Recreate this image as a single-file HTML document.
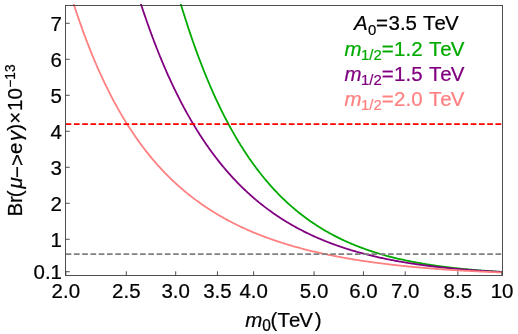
<!DOCTYPE html>
<html><head><meta charset="utf-8"><title>plot</title>
<style>
html,body{margin:0;padding:0;background:#fff;}
svg{display:block;font-family:"Liberation Sans",sans-serif;font-kerning:none;will-change:transform;}
</style></head><body>
<svg width="518" height="334" viewBox="0 0 518 334">
<rect width="518" height="334" fill="#fff"/>
<defs><clipPath id="c"><rect x="65.5" y="3.9" width="437.0" height="271.6"/></clipPath></defs>
<g clip-path="url(#c)" fill="none" stroke-width="1.8" stroke-linejoin="round">
<path d="M179.65,0.24 L180.65,3.59 L181.65,6.89 L182.65,10.15 L183.65,13.37 L184.65,16.56 L185.65,19.70 L186.65,22.81 L187.65,25.88 L188.65,28.91 L189.65,31.90 L190.65,34.86 L191.65,37.78 L192.65,40.67 L193.65,43.52 L194.65,46.34 L195.65,49.13 L196.65,51.88 L197.65,54.59 L198.65,57.28 L199.65,59.93 L200.65,62.55 L201.65,65.14 L202.65,67.70 L203.65,70.22 L204.65,72.72 L205.65,75.18 L206.65,77.62 L207.65,80.03 L208.65,82.40 L209.65,84.75 L210.65,87.08 L211.65,89.37 L212.65,91.63 L213.65,93.87 L214.65,96.08 L215.65,98.27 L216.65,100.43 L217.65,102.56 L218.65,104.67 L219.65,106.75 L220.65,108.81 L221.65,110.84 L222.65,112.85 L223.65,114.84 L224.65,116.80 L225.65,118.73 L226.65,120.65 L227.65,122.54 L228.65,124.41 L229.65,126.25 L230.65,128.08 L231.65,129.88 L232.65,131.66 L233.65,133.42 L234.65,135.16 L235.65,136.88 L236.65,138.58 L237.65,140.26 L238.65,141.91 L239.65,143.55 L240.65,145.17 L241.65,146.77 L242.65,148.35 L243.65,149.91 L244.65,151.45 L245.65,152.98 L246.65,154.48 L247.65,155.97 L248.65,157.44 L249.65,158.89 L250.65,160.33 L251.65,161.75 L252.65,163.15 L253.65,164.53 L254.65,165.90 L255.65,167.25 L256.65,168.59 L257.65,169.91 L258.65,171.21 L259.65,172.50 L260.65,173.78 L261.65,175.04 L262.65,176.28 L263.65,177.51 L264.65,178.72 L265.65,179.92 L266.65,181.11 L267.65,182.28 L268.65,183.44 L269.65,184.58 L270.65,185.71 L271.65,186.83 L272.65,187.93 L273.65,189.02 L274.65,190.10 L275.65,191.16 L276.65,192.21 L277.65,193.25 L278.65,194.28 L279.65,195.29 L280.65,196.30 L281.65,197.29 L282.65,198.27 L283.65,199.23 L284.65,200.19 L285.65,201.13 L286.65,202.07 L287.65,202.99 L288.65,203.90 L289.65,204.80 L290.65,205.69 L291.65,206.57 L292.65,207.43 L293.65,208.29 L294.65,209.14 L295.65,209.98 L296.65,210.80 L297.65,211.62 L298.65,212.43 L299.65,213.23 L300.65,214.02 L301.65,214.79 L302.65,215.56 L303.65,216.32 L304.65,217.08 L305.65,217.82 L306.65,218.55 L307.65,219.28 L308.65,219.99 L309.65,220.70 L310.65,221.40 L311.65,222.09 L312.65,222.77 L313.65,223.45 L314.65,224.11 L315.65,224.77 L316.65,225.42 L317.65,226.06 L318.65,226.70 L319.65,227.32 L320.65,227.94 L321.65,228.55 L322.65,229.16 L323.65,229.76 L324.65,230.35 L325.65,230.93 L326.65,231.50 L327.65,232.07 L328.65,232.64 L329.65,233.19 L330.65,233.74 L331.65,234.28 L332.65,234.82 L333.65,235.34 L334.65,235.87 L335.65,236.38 L336.65,236.89 L337.65,237.40 L338.65,237.89 L339.65,238.38 L340.65,238.87 L341.65,239.35 L342.65,239.82 L343.65,240.29 L344.65,240.75 L345.65,241.21 L346.65,241.66 L347.65,242.10 L348.65,242.54 L349.65,242.98 L350.65,243.41 L351.65,243.83 L352.65,244.25 L353.65,244.66 L354.65,245.07 L355.65,245.48 L356.65,245.87 L357.65,246.27 L358.65,246.66 L359.65,247.04 L360.65,247.42 L361.65,247.79 L362.65,248.16 L363.65,248.53 L364.65,248.89 L365.65,249.25 L366.65,249.60 L367.65,249.94 L368.65,250.29 L369.65,250.63 L370.65,250.96 L371.65,251.29 L372.65,251.62 L373.65,251.94 L374.65,252.26 L375.65,252.57 L376.65,252.88 L377.65,253.19 L378.65,253.49 L379.65,253.79 L380.65,254.09 L381.65,254.38 L382.65,254.66 L383.65,254.95 L384.65,255.23 L385.65,255.51 L386.65,255.78 L387.65,256.05 L388.65,256.32 L389.65,256.58 L390.65,256.84 L391.65,257.10 L392.65,257.35 L393.65,257.60 L394.65,257.85 L395.65,258.09 L396.65,258.33 L397.65,258.57 L398.65,258.80 L399.65,259.03 L400.65,259.26 L401.65,259.49 L402.65,259.71 L403.65,259.93 L404.65,260.15 L405.65,260.36 L406.65,260.57 L407.65,260.78 L408.65,260.99 L409.65,261.19 L410.65,261.39 L411.65,261.59 L412.65,261.79 L413.65,261.98 L414.65,262.17 L415.65,262.36 L416.65,262.54 L417.65,262.73 L418.65,262.91 L419.65,263.09 L420.65,263.26 L421.65,263.44 L422.65,263.61 L423.65,263.78 L424.65,263.94 L425.65,264.11 L426.65,264.27 L427.65,264.43 L428.65,264.59 L429.65,264.75 L430.65,264.90 L431.65,265.05 L432.65,265.20 L433.65,265.35 L434.65,265.50 L435.65,265.64 L436.65,265.78 L437.65,265.92 L438.65,266.06 L439.65,266.20 L440.65,266.33 L441.65,266.47 L442.65,266.60 L443.65,266.73 L444.65,266.86 L445.65,266.98 L446.65,267.11 L447.65,267.23 L448.65,267.35 L449.65,267.47 L450.65,267.59 L451.65,267.70 L452.65,267.82 L453.65,267.93 L454.65,268.04 L455.65,268.15 L456.65,268.26 L457.65,268.37 L458.65,268.47 L459.65,268.58 L460.65,268.68 L461.65,268.78 L462.65,268.88 L463.65,268.98 L464.65,269.07 L465.65,269.17 L466.65,269.26 L467.65,269.36 L468.65,269.45 L469.65,269.54 L470.65,269.63 L471.65,269.72 L472.65,269.80 L473.65,269.89 L474.65,269.97 L475.65,270.06 L476.65,270.14 L477.65,270.22 L478.65,270.30 L479.65,270.38 L480.65,270.45 L481.65,270.53 L482.65,270.61 L483.65,270.68 L484.65,270.75 L485.65,270.82 L486.65,270.90 L487.65,270.97 L488.65,271.03 L489.65,271.10 L490.65,271.17 L491.65,271.24 L492.65,271.30 L493.65,271.36 L494.65,271.43 L495.65,271.49 L496.65,271.55 L497.65,271.61 L498.65,271.67 L499.65,271.73 L500.65,271.79 L501.65,271.85 L502.40,271.89" stroke="#00aa00"/>
<path d="M139.65,0.03 L140.65,3.13 L141.65,6.19 L142.65,9.21 L143.65,12.20 L144.65,15.15 L145.65,18.06 L146.65,20.95 L147.65,23.80 L148.65,26.61 L149.65,29.39 L150.65,32.14 L151.65,34.86 L152.65,37.54 L153.65,40.20 L154.65,42.82 L155.65,45.41 L156.65,47.98 L157.65,50.51 L158.65,53.01 L159.65,55.49 L160.65,57.93 L161.65,60.35 L162.65,62.74 L163.65,65.10 L164.65,67.44 L165.65,69.75 L166.65,72.03 L167.65,74.28 L168.65,76.51 L169.65,78.72 L170.65,80.90 L171.65,83.05 L172.65,85.18 L173.65,87.28 L174.65,89.36 L175.65,91.42 L176.65,93.46 L177.65,95.47 L178.65,97.46 L179.65,99.42 L180.65,101.36 L181.65,103.29 L182.65,105.18 L183.65,107.06 L184.65,108.92 L185.65,110.76 L186.65,112.57 L187.65,114.37 L188.65,116.14 L189.65,117.90 L190.65,119.63 L191.65,121.35 L192.65,123.05 L193.65,124.72 L194.65,126.38 L195.65,128.02 L196.65,129.64 L197.65,131.25 L198.65,132.84 L199.65,134.40 L200.65,135.96 L201.65,137.49 L202.65,139.01 L203.65,140.51 L204.65,141.99 L205.65,143.46 L206.65,144.91 L207.65,146.34 L208.65,147.76 L209.65,149.17 L210.65,150.56 L211.65,151.93 L212.65,153.29 L213.65,154.63 L214.65,155.96 L215.65,157.27 L216.65,158.57 L217.65,159.86 L218.65,161.13 L219.65,162.38 L220.65,163.63 L221.65,164.86 L222.65,166.07 L223.65,167.28 L224.65,168.47 L225.65,169.64 L226.65,170.81 L227.65,171.96 L228.65,173.10 L229.65,174.22 L230.65,175.34 L231.65,176.44 L232.65,177.53 L233.65,178.61 L234.65,179.68 L235.65,180.73 L236.65,181.78 L237.65,182.81 L238.65,183.83 L239.65,184.84 L240.65,185.84 L241.65,186.83 L242.65,187.81 L243.65,188.77 L244.65,189.73 L245.65,190.68 L246.65,191.62 L247.65,192.54 L248.65,193.46 L249.65,194.37 L250.65,195.26 L251.65,196.15 L252.65,197.03 L253.65,197.90 L254.65,198.76 L255.65,199.61 L256.65,200.45 L257.65,201.28 L258.65,202.10 L259.65,202.92 L260.65,203.72 L261.65,204.52 L262.65,205.31 L263.65,206.09 L264.65,206.86 L265.65,207.62 L266.65,208.38 L267.65,209.12 L268.65,209.86 L269.65,210.59 L270.65,211.32 L271.65,212.03 L272.65,212.74 L273.65,213.44 L274.65,214.14 L275.65,214.82 L276.65,215.50 L277.65,216.17 L278.65,216.84 L279.65,217.49 L280.65,218.14 L281.65,218.79 L282.65,219.42 L283.65,220.05 L284.65,220.68 L285.65,221.29 L286.65,221.90 L287.65,222.50 L288.65,223.10 L289.65,223.69 L290.65,224.28 L291.65,224.85 L292.65,225.43 L293.65,225.99 L294.65,226.55 L295.65,227.10 L296.65,227.65 L297.65,228.19 L298.65,228.73 L299.65,229.26 L300.65,229.79 L301.65,230.31 L302.65,230.82 L303.65,231.33 L304.65,231.83 L305.65,232.33 L306.65,232.82 L307.65,233.31 L308.65,233.79 L309.65,234.27 L310.65,234.74 L311.65,235.20 L312.65,235.67 L313.65,236.12 L314.65,236.57 L315.65,237.02 L316.65,237.46 L317.65,237.90 L318.65,238.33 L319.65,238.76 L320.65,239.19 L321.65,239.61 L322.65,240.02 L323.65,240.43 L324.65,240.84 L325.65,241.24 L326.65,241.64 L327.65,242.03 L328.65,242.42 L329.65,242.80 L330.65,243.18 L331.65,243.56 L332.65,243.93 L333.65,244.30 L334.65,244.66 L335.65,245.03 L336.65,245.38 L337.65,245.73 L338.65,246.08 L339.65,246.43 L340.65,246.77 L341.65,247.11 L342.65,247.44 L343.65,247.77 L344.65,248.10 L345.65,248.42 L346.65,248.74 L347.65,249.06 L348.65,249.37 L349.65,249.68 L350.65,249.99 L351.65,250.29 L352.65,250.59 L353.65,250.89 L354.65,251.18 L355.65,251.47 L356.65,251.76 L357.65,252.04 L358.65,252.33 L359.65,252.60 L360.65,252.88 L361.65,253.15 L362.65,253.42 L363.65,253.68 L364.65,253.95 L365.65,254.21 L366.65,254.46 L367.65,254.72 L368.65,254.97 L369.65,255.22 L370.65,255.47 L371.65,255.71 L372.65,255.95 L373.65,256.19 L374.65,256.42 L375.65,256.66 L376.65,256.89 L377.65,257.11 L378.65,257.34 L379.65,257.56 L380.65,257.78 L381.65,258.00 L382.65,258.22 L383.65,258.43 L384.65,258.64 L385.65,258.85 L386.65,259.05 L387.65,259.26 L388.65,259.46 L389.65,259.66 L390.65,259.85 L391.65,260.05 L392.65,260.24 L393.65,260.43 L394.65,260.62 L395.65,260.81 L396.65,260.99 L397.65,261.17 L398.65,261.35 L399.65,261.53 L400.65,261.71 L401.65,261.88 L402.65,262.05 L403.65,262.22 L404.65,262.39 L405.65,262.56 L406.65,262.72 L407.65,262.88 L408.65,263.04 L409.65,263.20 L410.65,263.36 L411.65,263.51 L412.65,263.67 L413.65,263.82 L414.65,263.97 L415.65,264.11 L416.65,264.26 L417.65,264.41 L418.65,264.55 L419.65,264.69 L420.65,264.83 L421.65,264.97 L422.65,265.10 L423.65,265.24 L424.65,265.37 L425.65,265.50 L426.65,265.63 L427.65,265.76 L428.65,265.89 L429.65,266.01 L430.65,266.14 L431.65,266.26 L432.65,266.38 L433.65,266.50 L434.65,266.62 L435.65,266.74 L436.65,266.85 L437.65,266.97 L438.65,267.08 L439.65,267.19 L440.65,267.30 L441.65,267.41 L442.65,267.52 L443.65,267.62 L444.65,267.73 L445.65,267.83 L446.65,267.94 L447.65,268.04 L448.65,268.14 L449.65,268.24 L450.65,268.33 L451.65,268.43 L452.65,268.52 L453.65,268.62 L454.65,268.71 L455.65,268.80 L456.65,268.89 L457.65,268.98 L458.65,269.07 L459.65,269.16 L460.65,269.25 L461.65,269.33 L462.65,269.42 L463.65,269.50 L464.65,269.58 L465.65,269.66 L466.65,269.74 L467.65,269.82 L468.65,269.90 L469.65,269.98 L470.65,270.05 L471.65,270.13 L472.65,270.20 L473.65,270.27 L474.65,270.35 L475.65,270.42 L476.65,270.49 L477.65,270.56 L478.65,270.63 L479.65,270.70 L480.65,270.76 L481.65,270.83 L482.65,270.89 L483.65,270.96 L484.65,271.02 L485.65,271.09 L486.65,271.15 L487.65,271.21 L488.65,271.27 L489.65,271.33 L490.65,271.39 L491.65,271.45 L492.65,271.50 L493.65,271.56 L494.65,271.62 L495.65,271.67 L496.65,271.72 L497.65,271.78 L498.65,271.83 L499.65,271.88 L500.65,271.94 L501.65,271.99 L502.40,272.02" stroke="#800080"/>
<path d="M72.65,0.79 L73.65,3.90 L74.65,6.98 L75.65,10.01 L76.65,13.01 L77.65,15.97 L78.65,18.89 L79.65,21.77 L80.65,24.61 L81.65,27.42 L82.65,30.20 L83.65,32.93 L84.65,35.63 L85.65,38.30 L86.65,40.93 L87.65,43.53 L88.65,46.10 L89.65,48.64 L90.65,51.14 L91.65,53.61 L92.65,56.05 L93.65,58.46 L94.65,60.84 L95.65,63.19 L96.65,65.51 L97.65,67.80 L98.65,70.06 L99.65,72.29 L100.65,74.50 L101.65,76.68 L102.65,78.83 L103.65,80.96 L104.65,83.06 L105.65,85.13 L106.65,87.18 L107.65,89.21 L108.65,91.21 L109.65,93.18 L110.65,95.13 L111.65,97.06 L112.65,98.96 L113.65,100.84 L114.65,102.70 L115.65,104.54 L116.65,106.35 L117.65,108.14 L118.65,109.92 L119.65,111.67 L120.65,113.39 L121.65,115.10 L122.65,116.79 L123.65,118.46 L124.65,120.11 L125.65,121.74 L126.65,123.35 L127.65,124.94 L128.65,126.51 L129.65,128.06 L130.65,129.60 L131.65,131.12 L132.65,132.62 L133.65,134.10 L134.65,135.56 L135.65,137.01 L136.65,138.44 L137.65,139.86 L138.65,141.26 L139.65,142.64 L140.65,144.01 L141.65,145.36 L142.65,146.70 L143.65,148.02 L144.65,149.32 L145.65,150.61 L146.65,151.89 L147.65,153.15 L148.65,154.40 L149.65,155.63 L150.65,156.85 L151.65,158.06 L152.65,159.25 L153.65,160.43 L154.65,161.59 L155.65,162.75 L156.65,163.89 L157.65,165.01 L158.65,166.13 L159.65,167.23 L160.65,168.32 L161.65,169.40 L162.65,170.47 L163.65,171.52 L164.65,172.56 L165.65,173.59 L166.65,174.61 L167.65,175.62 L168.65,176.62 L169.65,177.61 L170.65,178.59 L171.65,179.55 L172.65,180.51 L173.65,181.45 L174.65,182.39 L175.65,183.31 L176.65,184.23 L177.65,185.13 L178.65,186.03 L179.65,186.91 L180.65,187.79 L181.65,188.66 L182.65,189.52 L183.65,190.36 L184.65,191.20 L185.65,192.03 L186.65,192.86 L187.65,193.67 L188.65,194.47 L189.65,195.27 L190.65,196.06 L191.65,196.84 L192.65,197.61 L193.65,198.37 L194.65,199.13 L195.65,199.88 L196.65,200.62 L197.65,201.35 L198.65,202.07 L199.65,202.79 L200.65,203.50 L201.65,204.20 L202.65,204.90 L203.65,205.59 L204.65,206.27 L205.65,206.94 L206.65,207.61 L207.65,208.27 L208.65,208.92 L209.65,209.57 L210.65,210.21 L211.65,210.84 L212.65,211.47 L213.65,212.09 L214.65,212.70 L215.65,213.31 L216.65,213.92 L217.65,214.51 L218.65,215.10 L219.65,215.69 L220.65,216.26 L221.65,216.84 L222.65,217.40 L223.65,217.97 L224.65,218.52 L225.65,219.07 L226.65,219.62 L227.65,220.16 L228.65,220.69 L229.65,221.22 L230.65,221.74 L231.65,222.26 L232.65,222.77 L233.65,223.28 L234.65,223.78 L235.65,224.28 L236.65,224.78 L237.65,225.26 L238.65,225.75 L239.65,226.23 L240.65,226.70 L241.65,227.17 L242.65,227.64 L243.65,228.10 L244.65,228.55 L245.65,229.00 L246.65,229.45 L247.65,229.89 L248.65,230.33 L249.65,230.77 L250.65,231.20 L251.65,231.62 L252.65,232.05 L253.65,232.46 L254.65,232.88 L255.65,233.29 L256.65,233.69 L257.65,234.10 L258.65,234.49 L259.65,234.89 L260.65,235.28 L261.65,235.67 L262.65,236.05 L263.65,236.43 L264.65,236.81 L265.65,237.18 L266.65,237.55 L267.65,237.91 L268.65,238.27 L269.65,238.63 L270.65,238.99 L271.65,239.34 L272.65,239.69 L273.65,240.03 L274.65,240.38 L275.65,240.72 L276.65,241.05 L277.65,241.38 L278.65,241.71 L279.65,242.04 L280.65,242.36 L281.65,242.68 L282.65,243.00 L283.65,243.31 L284.65,243.63 L285.65,243.93 L286.65,244.24 L287.65,244.54 L288.65,244.84 L289.65,245.14 L290.65,245.43 L291.65,245.73 L292.65,246.01 L293.65,246.30 L294.65,246.58 L295.65,246.87 L296.65,247.14 L297.65,247.42 L298.65,247.69 L299.65,247.96 L300.65,248.23 L301.65,248.50 L302.65,248.76 L303.65,249.02 L304.65,249.28 L305.65,249.54 L306.65,249.79 L307.65,250.04 L308.65,250.29 L309.65,250.54 L310.65,250.78 L311.65,251.02 L312.65,251.26 L313.65,251.50 L314.65,251.74 L315.65,251.97 L316.65,252.20 L317.65,252.43 L318.65,252.66 L319.65,252.88 L320.65,253.11 L321.65,253.33 L322.65,253.55 L323.65,253.76 L324.65,253.98 L325.65,254.19 L326.65,254.40 L327.65,254.61 L328.65,254.82 L329.65,255.03 L330.65,255.23 L331.65,255.43 L332.65,255.63 L333.65,255.83 L334.65,256.02 L335.65,256.22 L336.65,256.41 L337.65,256.60 L338.65,256.79 L339.65,256.98 L340.65,257.16 L341.65,257.35 L342.65,257.53 L343.65,257.71 L344.65,257.89 L345.65,258.07 L346.65,258.24 L347.65,258.42 L348.65,258.59 L349.65,258.76 L350.65,258.93 L351.65,259.10 L352.65,259.26 L353.65,259.43 L354.65,259.59 L355.65,259.75 L356.65,259.91 L357.65,260.07 L358.65,260.23 L359.65,260.39 L360.65,260.54 L361.65,260.69 L362.65,260.85 L363.65,261.00 L364.65,261.15 L365.65,261.29 L366.65,261.44 L367.65,261.58 L368.65,261.73 L369.65,261.87 L370.65,262.01 L371.65,262.15 L372.65,262.29 L373.65,262.43 L374.65,262.56 L375.65,262.70 L376.65,262.83 L377.65,262.96 L378.65,263.09 L379.65,263.22 L380.65,263.35 L381.65,263.48 L382.65,263.60 L383.65,263.73 L384.65,263.85 L385.65,263.97 L386.65,264.10 L387.65,264.22 L388.65,264.34 L389.65,264.45 L390.65,264.57 L391.65,264.69 L392.65,264.80 L393.65,264.91 L394.65,265.03 L395.65,265.14 L396.65,265.25 L397.65,265.36 L398.65,265.47 L399.65,265.57 L400.65,265.68 L401.65,265.79 L402.65,265.89 L403.65,265.99 L404.65,266.10 L405.65,266.20 L406.65,266.30 L407.65,266.40 L408.65,266.50 L409.65,266.60 L410.65,266.69 L411.65,266.79 L412.65,266.88 L413.65,266.98 L414.65,267.07 L415.65,267.16 L416.65,267.25 L417.65,267.34 L418.65,267.43 L419.65,267.52 L420.65,267.61 L421.65,267.70 L422.65,267.78 L423.65,267.87 L424.65,267.95 L425.65,268.04 L426.65,268.12 L427.65,268.20 L428.65,268.28 L429.65,268.36 L430.65,268.44 L431.65,268.52 L432.65,268.60 L433.65,268.68 L434.65,268.76 L435.65,268.83 L436.65,268.91 L437.65,268.98 L438.65,269.06 L439.65,269.13 L440.65,269.20 L441.65,269.27 L442.65,269.34 L443.65,269.41 L444.65,269.48 L445.65,269.55 L446.65,269.62 L447.65,269.69 L448.65,269.75 L449.65,269.82 L450.65,269.88 L451.65,269.95 L452.65,270.01 L453.65,270.08 L454.65,270.14 L455.65,270.20 L456.65,270.26 L457.65,270.32 L458.65,270.38 L459.65,270.44 L460.65,270.50 L461.65,270.56 L462.65,270.62 L463.65,270.68 L464.65,270.73 L465.65,270.79 L466.65,270.84 L467.65,270.90 L468.65,270.95 L469.65,271.01 L470.65,271.06 L471.65,271.11 L472.65,271.17 L473.65,271.22 L474.65,271.27 L475.65,271.32 L476.65,271.37 L477.65,271.42 L478.65,271.47 L479.65,271.52 L480.65,271.56 L481.65,271.61 L482.65,271.66 L483.65,271.70 L484.65,271.75 L485.65,271.80 L486.65,271.84 L487.65,271.88 L488.65,271.93 L489.65,271.97 L490.65,272.01 L491.65,272.06 L492.65,272.10 L493.65,272.14 L494.65,272.18 L495.65,272.22 L496.65,272.26 L497.65,272.30 L498.65,272.34 L499.65,272.38 L500.65,272.42 L501.65,272.46 L502.40,272.49" stroke="#ff8080"/>
<path d="M65.65,124.10 H502.4" stroke="#ff0000" stroke-width="1.7" stroke-dasharray="5.7 2.566"/>
<path d="M65.65,254.10 H502.4" stroke="#808080" stroke-width="1.7" stroke-dasharray="5.7 2.566"/>
</g>
<rect x="65.5" y="5.5" width="437.0" height="270.0" fill="none" stroke="#3c3c3c" stroke-width="0.9"/>
<g stroke="#3c3c3c" stroke-width="0.9">
<path d="M65.85,275.5 V271.3"/>
<path d="M126.30,275.5 V271.3"/>
<path d="M175.69,275.5 V271.3"/>
<path d="M217.45,275.5 V271.3"/>
<path d="M253.62,275.5 V271.3"/>
<path d="M314.07,275.5 V271.3"/>
<path d="M363.46,275.5 V271.3"/>
<path d="M405.22,275.5 V271.3"/>
<path d="M457.82,275.5 V271.3"/>
<path d="M501.85,275.5 V271.3"/>
<path d="M65.5,271.70 H69.7"/>
<path d="M65.5,239.30 H69.7"/>
<path d="M65.5,203.30 H69.7"/>
<path d="M65.5,167.30 H69.7"/>
<path d="M65.5,131.30 H69.7"/>
<path d="M65.5,95.30 H69.7"/>
<path d="M65.5,59.30 H69.7"/>
<path d="M65.5,23.30 H69.7"/>
</g>
<text transform="translate(65.85,297.60) scale(1,1.03)" font-size="20.5" fill="#000" stroke="#000" stroke-width="0.22" text-anchor="middle">2.0</text>
<text transform="translate(126.30,297.60) scale(1,1.03)" font-size="20.5" fill="#000" stroke="#000" stroke-width="0.22" text-anchor="middle">2.5</text>
<text transform="translate(175.69,297.60) scale(1,1.03)" font-size="20.5" fill="#000" stroke="#000" stroke-width="0.22" text-anchor="middle">3.0</text>
<text transform="translate(217.45,297.60) scale(1,1.03)" font-size="20.5" fill="#000" stroke="#000" stroke-width="0.22" text-anchor="middle">3.5</text>
<text transform="translate(253.62,297.60) scale(1,1.03)" font-size="20.5" fill="#000" stroke="#000" stroke-width="0.22" text-anchor="middle">4.0</text>
<text transform="translate(314.07,297.60) scale(1,1.03)" font-size="20.5" fill="#000" stroke="#000" stroke-width="0.22" text-anchor="middle">5.0</text>
<text transform="translate(363.46,297.60) scale(1,1.03)" font-size="20.5" fill="#000" stroke="#000" stroke-width="0.22" text-anchor="middle">6.0</text>
<text transform="translate(405.22,297.60) scale(1,1.03)" font-size="20.5" fill="#000" stroke="#000" stroke-width="0.22" text-anchor="middle">7.0</text>
<text transform="translate(457.82,297.60) scale(1,1.03)" font-size="20.5" fill="#000" stroke="#000" stroke-width="0.22" text-anchor="middle">8.5</text>
<text transform="translate(502.05,297.60) scale(1,1.03)" font-size="20.5" fill="#000" stroke="#000" stroke-width="0.22" text-anchor="middle">10</text>
<text transform="translate(62.00,279.00) scale(1,1.03)" font-size="20.5" fill="#000" stroke="#000" stroke-width="0.22" text-anchor="end">0.1</text>
<text transform="translate(62.00,246.60) scale(1,1.03)" font-size="20.5" fill="#000" stroke="#000" stroke-width="0.22" text-anchor="end">1</text>
<text transform="translate(62.00,210.60) scale(1,1.03)" font-size="20.5" fill="#000" stroke="#000" stroke-width="0.22" text-anchor="end">2</text>
<text transform="translate(62.00,174.60) scale(1,1.03)" font-size="20.5" fill="#000" stroke="#000" stroke-width="0.22" text-anchor="end">3</text>
<text transform="translate(62.00,138.60) scale(1,1.03)" font-size="20.5" fill="#000" stroke="#000" stroke-width="0.22" text-anchor="end">4</text>
<text transform="translate(62.00,102.60) scale(1,1.03)" font-size="20.5" fill="#000" stroke="#000" stroke-width="0.22" text-anchor="end">5</text>
<text transform="translate(62.00,66.60) scale(1,1.03)" font-size="20.5" fill="#000" stroke="#000" stroke-width="0.22" text-anchor="end">6</text>
<text transform="translate(62.00,30.60) scale(1,1.03)" font-size="20.5" fill="#000" stroke="#000" stroke-width="0.22" text-anchor="end">7</text>
<text transform="translate(245.30,326.60) scale(1,1.03)" font-size="20.5" fill="#000" stroke="#000" stroke-width="0.22" text-anchor="start"><tspan font-style="italic">m</tspan><tspan font-size="15.5" dy="3.8">0</tspan><tspan dy="-3.8" dx="-0.4">(</tspan><tspan letter-spacing="-1.05">TeV</tspan><tspan dx="2.9">)</tspan></text>
<text transform="translate(22.3,216.6) rotate(-90)" font-size="20.5" fill="#000" stroke="#000" stroke-width="0.22">Br<tspan dx="-1.2">(</tspan><tspan font-style="italic" dx="2">μ</tspan><tspan dx="-0.8" dy="1.7">−&gt;</tspan><tspan dy="-1.7">e</tspan><tspan dx="1.8" font-style="italic">γ</tspan><tspan dx="0">)</tspan><tspan dx="0.1">×</tspan><tspan dx="0.8">10</tspan><tspan font-size="13.8" dy="-7.6" dx="0.3">−13</tspan></text>
<text transform="translate(0,30.40) scale(1,1.03)" font-size="20.5" fill="#000" stroke="#000" stroke-width="0.22"><tspan x="353.9" font-style="italic">A</tspan><tspan x="367.9" font-size="14.9" dy="4.3">0</tspan><tspan x="376.0" dy="-4.3">=</tspan><tspan x="388.5" >3.5 </tspan><tspan x="423.1" ><tspan letter-spacing="-1.05">TeV</tspan></tspan></text>
<text transform="translate(0,55.50) scale(1,1.03)" font-size="20.5" fill="#00aa00" stroke="#00aa00" stroke-width="0.22"><tspan x="344.6" font-style="italic">m</tspan><tspan x="361.1" font-size="14.9" dy="4.3">1/2</tspan><tspan x="381.7" dy="-4.3">=</tspan><tspan x="394.1" >1.2 </tspan><tspan x="428.9" ><tspan letter-spacing="-1.05">TeV</tspan></tspan></text>
<text transform="translate(0,80.50) scale(1,1.03)" font-size="20.5" fill="#800080" stroke="#800080" stroke-width="0.22"><tspan x="344.6" font-style="italic">m</tspan><tspan x="361.1" font-size="14.9" dy="4.3">1/2</tspan><tspan x="381.7" dy="-4.3">=</tspan><tspan x="394.1" >1.5 </tspan><tspan x="428.9" ><tspan letter-spacing="-1.05">TeV</tspan></tspan></text>
<text transform="translate(0,105.50) scale(1,1.03)" font-size="20.5" fill="#ff8080" stroke="#ff8080" stroke-width="0.22"><tspan x="344.6" font-style="italic">m</tspan><tspan x="361.1" font-size="14.9" dy="4.3">1/2</tspan><tspan x="381.7" dy="-4.3">=</tspan><tspan x="394.1" >2.0 </tspan><tspan x="428.9" ><tspan letter-spacing="-1.05">TeV</tspan></tspan></text>
</svg></body></html>
